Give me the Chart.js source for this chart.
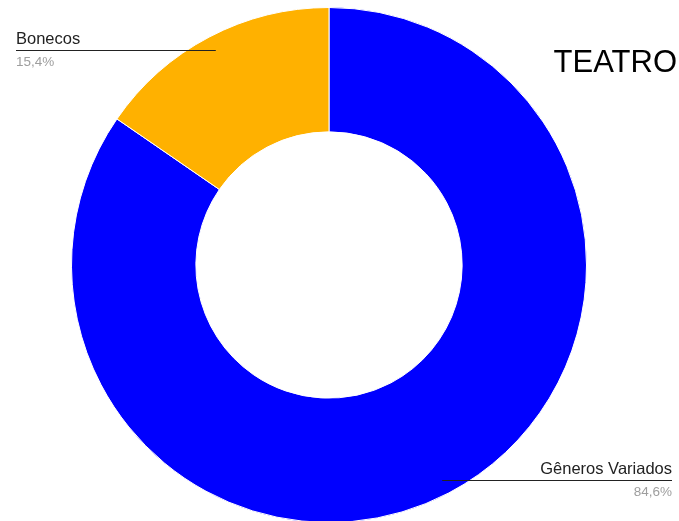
<!DOCTYPE html>
<html>
<head>
<meta charset="utf-8">
<title>TEATRO</title>
<script src="https://cdn.jsdelivr.net/npm/chart.js@4"></script>
<style>
  html, body { margin: 0; padding: 0; background: #fff; overflow: hidden; }
  #wrap { width: 679px; height: 540px; }
</style>
</head>
<body>
<div id="wrap"><canvas id="myChart" width="679" height="540"></canvas></div>
<script>
"use strict";

const chartTitle = 'TEATRO';
const categories = ['Gêneros Variados', 'Bonecos'];
const values = [84.6, 15.4];
const sliceColors = ['#0000ff', '#ffb100'];

// leader-line labels (drawn like the google pie "labeled" legend)
const sliceLabels = {
    id: 'sliceLabels',
    afterDatasetsDraw(chart) {
        const ctx = chart.ctx;
        const meta = chart.getDatasetMeta(0);
        const total = values.reduce((a, b) => a + b, 0);
        ctx.save();
        meta.data.forEach((arc, i) => {
            const p = arc.getProps(['x', 'y', 'startAngle', 'endAngle', 'outerRadius'], true);
            const mid = (p.startAngle + p.endAngle) / 2;
            const ax = p.x + Math.cos(mid) * p.outerRadius * 0.945;
            const ay = p.y + Math.sin(mid) * p.outerRadius * 0.945;
            const left = ax < p.x;
            const x0 = left ? 16 : ax;
            const x1 = left ? ax : chart.width - 7;
            ctx.strokeStyle = '#222';
            ctx.lineWidth = 1;
            ctx.beginPath();
            ctx.moveTo(x0, Math.round(ay) + 0.5);
            ctx.lineTo(x1, Math.round(ay) + 0.5);
            ctx.stroke();

            ctx.textAlign = left ? 'left' : 'right';
            ctx.textBaseline = 'alphabetic';
            const tx = left ? x0 : x1;
            ctx.fillStyle = '#222';
            ctx.font = '16.5px "Liberation Sans", Arial, sans-serif';
            ctx.fillText(categories[i], tx, Math.round(ay) - 6);
            ctx.fillStyle = '#9e9e9e';
            ctx.font = '13.5px "Liberation Sans", Arial, sans-serif';
            const pct = (values[i] / total * 100).toFixed(1).replace('.', ',') + '%';
            ctx.fillText(pct, tx, Math.round(ay) + 16);
        });

        ctx.fillStyle = '#000';
        ctx.textAlign = 'right';
        ctx.font = '31px "Liberation Sans", Arial, sans-serif';
        ctx.fillText(chartTitle, 677, 72);
        ctx.restore();
    }
};

const ctx = document.getElementById('myChart').getContext('2d');
const myChart = new Chart(ctx, {
    type: 'doughnut',
    data: {
        labels: categories,
        datasets: [{
            data: values,
            backgroundColor: sliceColors,
            borderColor: '#ffffff',
            borderWidth: 1
        }]
    },
    options: {
        responsive: false,
        animation: false,
        cutout: '51.7%',
        layout: {
            padding: { top: 7, bottom: 17, left: 71, right: 92 }
        },
        plugins: {
            legend: { display: false },
            tooltip: { enabled: false },
            title: { display: false }
        }
    },
    plugins: [sliceLabels]
});
</script>
</body>
</html>
